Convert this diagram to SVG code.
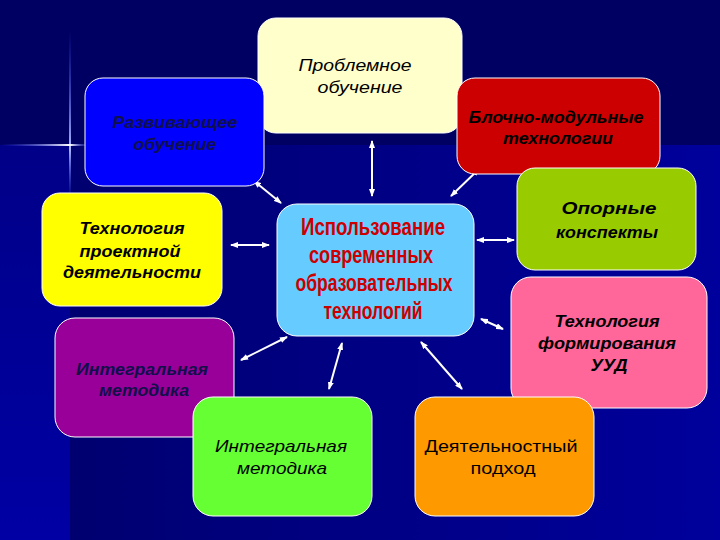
<svg xmlns="http://www.w3.org/2000/svg" width="720" height="540" viewBox="0 0 720 540">
<defs>
<style>
.box{stroke:#ffffff;stroke-width:1}
.t{font-family:"Liberation Sans",Arial,sans-serif;font-size:17px;font-style:italic;font-weight:bold;text-anchor:middle;fill:#000000}
.tn{font-weight:normal}
.navy{fill:#10104a}
.c{font-family:"Liberation Sans",Arial,sans-serif;font-size:23px;font-weight:bold;text-anchor:middle;fill:#cc0000}
.conn line{stroke:#ffffff;stroke-width:2;marker-start:url(#ah);marker-end:url(#ah)}
</style>
<marker id="ah" viewBox="0 0 8 6" markerWidth="8" markerHeight="6" refX="7" refY="3" orient="auto-start-reverse" markerUnits="userSpaceOnUse">
<path d="M0,0 L8,3 L0,6 z" fill="#ffffff"/>
</marker>
<linearGradient id="lowbg" x1="0" y1="0" x2="1" y2="0">
<stop offset="0" stop-color="#000070"/>
<stop offset="1" stop-color="#00009c"/>
</linearGradient>
<linearGradient id="leftbg" x1="0" y1="0" x2="0" y2="1">
<stop offset="0" stop-color="#000088"/>
<stop offset="1" stop-color="#0000a4"/>
</linearGradient>
<linearGradient id="vline" x1="0" y1="0" x2="0" y2="1">
<stop offset="0" stop-color="#3344ff" stop-opacity="0"/>
<stop offset="0.7" stop-color="#aab8ff" stop-opacity="1"/>
<stop offset="1" stop-color="#3344ff" stop-opacity="0"/>
</linearGradient>
<linearGradient id="hline" x1="0" y1="0" x2="1" y2="0">
<stop offset="0" stop-color="#3344ff" stop-opacity="0"/>
<stop offset="0.78" stop-color="#ffffff" stop-opacity="1"/>
<stop offset="1" stop-color="#3344ff" stop-opacity="0"/>
</linearGradient>
</defs>

<rect x="0" y="0" width="720" height="540" fill="#000062"/>
<rect x="70" y="145" width="650" height="395" fill="url(#lowbg)"/>
<rect x="0" y="145" width="70" height="395" fill="url(#leftbg)"/>
<rect x="69" y="30" width="2" height="170" fill="url(#vline)"/>
<rect x="0" y="144" width="90" height="2" fill="url(#hline)"/>

<g class="conn">
<line x1="372" y1="141" x2="372" y2="196"/>
<line x1="254" y1="181" x2="281" y2="203"/>
<line x1="479" y1="169" x2="451" y2="196"/>
<line x1="231" y1="245" x2="269" y2="245"/>
<line x1="477" y1="240" x2="514" y2="240"/>
<line x1="481" y1="319" x2="503" y2="329"/>
<line x1="287" y1="337" x2="241" y2="360"/>
<line x1="342" y1="343" x2="329" y2="389"/>
<line x1="421" y1="342" x2="462" y2="389"/>
</g>

<g id="n-problem">
<rect class="box" x="258" y="18" width="204" height="115" rx="18" fill="#ffffcc"/>
<text class="t tn" x="355" y="71" textLength="113" lengthAdjust="spacingAndGlyphs">Проблемное</text>
<text class="t tn" x="360" y="93" textLength="85" lengthAdjust="spacingAndGlyphs">обучение</text>
</g>

<g id="n-razv">
<rect class="box" x="85" y="78" width="179" height="108" rx="18" fill="#0000ff"/>
<text class="t navy" x="175" y="128" textLength="125" lengthAdjust="spacingAndGlyphs">Развивающее</text>
<text class="t navy" x="175" y="150" textLength="83" lengthAdjust="spacingAndGlyphs">обучение</text>
</g>

<g id="n-block">
<rect class="box" x="457" y="78" width="203" height="96" rx="18" fill="#cc0000"/>
<text class="t" x="556" y="123" textLength="175" lengthAdjust="spacingAndGlyphs">Блочно-модульные</text>
<text class="t" x="558" y="144" textLength="110" lengthAdjust="spacingAndGlyphs">технологии</text>
</g>

<g id="n-opor">
<rect class="box" x="517" y="168" width="179" height="102" rx="18" fill="#99cc00"/>
<text class="t" x="609" y="214" textLength="95" lengthAdjust="spacingAndGlyphs">Опорные</text>
<text class="t" x="607" y="238" textLength="102" lengthAdjust="spacingAndGlyphs">конспекты</text>
</g>

<g id="n-proekt">
<rect class="box" x="42" y="193" width="180" height="113" rx="18" fill="#ffff00"/>
<text class="t" x="132" y="234" textLength="105" lengthAdjust="spacingAndGlyphs">Технология</text>
<text class="t" x="130" y="257" textLength="101" lengthAdjust="spacingAndGlyphs">проектной</text>
<text class="t" x="132" y="278" textLength="138" lengthAdjust="spacingAndGlyphs">деятельности</text>
</g>

<g id="n-center">
<rect class="box" x="277" y="204" width="197" height="132" rx="20" fill="#66ccff"/>
<text class="c" x="373" y="235" textLength="144" lengthAdjust="spacingAndGlyphs">Использование</text>
<text class="c" x="371" y="263" textLength="124" lengthAdjust="spacingAndGlyphs">современных</text>
<text class="c" x="374" y="291" textLength="157" lengthAdjust="spacingAndGlyphs">образовательных</text>
<text class="c" x="373" y="319" textLength="99" lengthAdjust="spacingAndGlyphs">технологий</text>
</g>

<g id="n-uud">
<rect class="box" x="511" y="277" width="196" height="131" rx="20" fill="#ff6699"/>
<text class="t" x="607" y="327" textLength="105" lengthAdjust="spacingAndGlyphs">Технология</text>
<text class="t" x="607" y="349" textLength="138" lengthAdjust="spacingAndGlyphs">формирования</text>
<text class="t" x="609" y="371" textLength="37" lengthAdjust="spacingAndGlyphs">УУД</text>
</g>

<g id="n-integr1">
<rect class="box" x="55" y="318" width="179" height="119" rx="20" fill="#990099"/>
<text class="t navy" x="142" y="375" textLength="132" lengthAdjust="spacingAndGlyphs">Интегральная</text>
<text class="t navy" x="144" y="396" textLength="90" lengthAdjust="spacingAndGlyphs">методика</text>
</g>

<g id="n-integr2">
<rect class="box" x="193" y="397" width="179" height="119" rx="20" fill="#66ff33"/>
<text class="t tn" x="281" y="452" textLength="132" lengthAdjust="spacingAndGlyphs">Интегральная</text>
<text class="t tn" x="282" y="474" textLength="90" lengthAdjust="spacingAndGlyphs">методика</text>
</g>

<g id="n-deyat">
<rect class="box" x="415" y="397" width="179" height="119" rx="20" fill="#ff9900"/>
<text class="t tn" x="501" y="452" style="font-style:normal" textLength="153" lengthAdjust="spacingAndGlyphs">Деятельностный</text>
<text class="t tn" x="503" y="474" style="font-style:normal" textLength="65" lengthAdjust="spacingAndGlyphs">подход</text>
</g>
</svg>
